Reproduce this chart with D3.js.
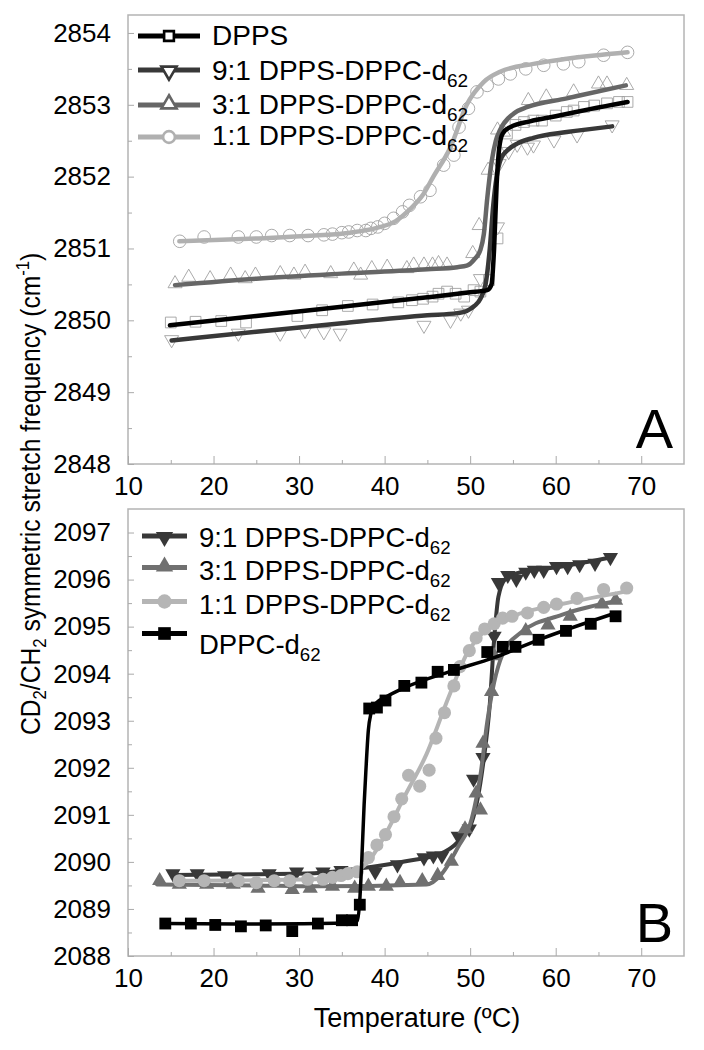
<!DOCTYPE html>
<html><head><meta charset="utf-8">
<script src="https://cdn.jsdelivr.net/npm/d3@7"></script>
<style>body{margin:0;background:#fff}svg{display:block}text{font-family:"Liberation Sans",Arial,sans-serif}</style>
</head><body>
<script>
// ---------- DATA ----------
const xTicks = [10,20,30,40,50,60,70];
const yTicksA = [2848,2849,2850,2851,2852,2853,2854];
const yTicksB = [2088,2089,2090,2091,2092,2093,2094,2095,2096,2097];

// Panel A (CH2 stretch) — measured points [T, freq]
const A_DPPS_pts = [[15.0,2849.97],[17.9,2849.98],[20.9,2849.99],[23.8,2849.97],[29.8,2850.06],[32.7,2850.14],[35.7,2850.20],[38.6,2850.22],[41.6,2850.25],[43.2,2850.28],[44.5,2850.30],[45.6,2850.33],[46.3,2850.37],[47.3,2850.40],[48.3,2850.37],[49.3,2850.33],[50.4,2850.42],[51.2,2850.40],[52.2,2850.56],[53.2,2851.14],[54.3,2852.60],[55.3,2852.72],[56.3,2852.76],[57.4,2852.78],[58.4,2852.78],[60.0,2852.85],[61.3,2852.90],[62.1,2852.92],[63.3,2852.97],[64.5,2852.99],[66.0,2853.02],[67.4,2853.04],[68.4,2853.04]];
const A_DPPS_fit = [[14.9,2849.93],[25,2850.06],[35,2850.19],[45,2850.32],[50,2850.39],[52.0,2850.42],[52.5,2850.5],[52.8,2851.0],[53.1,2851.9],[53.4,2852.4],[53.8,2852.6],[54.7,2852.69],[57,2852.77],[60,2852.84],[64,2852.94],[68.4,2853.04]];
const A_91_pts = [[15.1,2849.73],[22.9,2849.82],[27.8,2849.82],[30.7,2849.86],[32.9,2849.84],[34.8,2849.82],[44.6,2849.93],[47.7,2850.00],[48.9,2850.10],[49.8,2850.14],[51.2,2850.58],[53.2,2851.30],[53.4,2852.18],[54.5,2852.35],[55.5,2852.45],[56.7,2852.41],[57.4,2852.44],[59.8,2852.51],[62.5,2852.58],[66.6,2852.72]];
const A_91_fit = [[15.1,2849.72],[25,2849.84],[35,2849.96],[45,2850.07],[48.5,2850.10],[49.6,2850.13],[50.5,2850.2],[51.2,2850.3],[51.8,2850.5],[52.3,2851.0],[52.7,2851.6],[53.1,2852.0],[53.6,2852.25],[54.3,2852.36],[55.5,2852.46],[57.4,2852.54],[61.3,2852.62],[66.6,2852.70]];
const A_31_pts = [[15.5,2850.51],[17.1,2850.60],[19.6,2850.58],[22.0,2850.63],[23.7,2850.58],[24.9,2850.63],[27.8,2850.65],[29.4,2850.63],[30.7,2850.67],[33.7,2850.65],[36.4,2850.70],[37.2,2850.63],[38.5,2850.72],[40.3,2850.74],[42.6,2850.72],[43.4,2850.77],[44.6,2850.77],[45.6,2850.77],[46.3,2850.79],[47.3,2850.77],[50.3,2850.93],[51.05,2851.32],[52.1,2852.09],[53.2,2852.65],[53.9,2852.62],[56.8,2853.06],[58.9,2853.11],[62.1,2853.18],[65.0,2853.29],[66.0,2853.29],[68.3,2853.27]];
const A_31_fit = [[15.5,2850.49],[25,2850.58],[35,2850.65],[45,2850.71],[48.5,2850.74],[49.6,2850.76],[50.5,2850.85],[51.2,2850.98],[51.6,2851.2],[52.0,2851.7],[52.5,2852.2],[53.0,2852.5],[53.5,2852.65],[55.1,2852.88],[56.7,2852.97],[61.3,2853.09],[68.2,2853.27]];
const A_11_pts = [[16.05,2851.10],[18.9,2851.16],[22.9,2851.16],[25.0,2851.16],[26.8,2851.18],[28.9,2851.18],[31.05,2851.18],[32.9,2851.19],[33.9,2851.20],[35.0,2851.22],[35.8,2851.23],[36.8,2851.25],[37.8,2851.25],[38.4,2851.28],[39.2,2851.30],[40.0,2851.35],[41.05,2851.42],[42.1,2851.51],[42.9,2851.60],[44.2,2851.72],[45.3,2851.81],[46.9,2852.16],[48.1,2852.30],[48.7,2852.69],[49.8,2852.95],[50.8,2853.18],[52.0,2853.27],[53.3,2853.36],[54.7,2853.43],[56.5,2853.50],[58.6,2853.55],[60.9,2853.57],[62.7,2853.60],[65.6,2853.69],[68.4,2853.73]];
const A_11_fit = [[16.0,2851.10],[25,2851.14],[31.8,2851.18],[36,2851.22],[39.2,2851.29],[41.3,2851.38],[43,2851.55],[44.5,2851.75],[45.7,2852.0],[47.7,2852.41],[49.6,2853.0],[51.6,2853.32],[53.5,2853.46],[57.4,2853.57],[61.3,2853.64],[68.4,2853.73]];

// Panel B (CD2 stretch)
const B_91_pts = [[15.25,2089.75],[18.1,2089.75],[21.3,2089.71],[26.5,2089.75],[29.7,2089.79],[32.8,2089.79],[34.9,2089.82],[38.9,2089.79],[41.5,2089.94],[44.6,2090.09],[45.7,2090.13],[46.7,2090.13],[48.6,2090.55],[49.9,2090.70],[50.4,2091.76],[51.5,2092.22],[52.8,2094.80],[53.3,2095.94],[54.4,2096.09],[55.4,2096.01],[56.5,2096.16],[57.5,2096.20],[58.6,2096.20],[60.1,2096.28],[61.4,2096.28],[62.8,2096.32],[64.6,2096.35],[66.4,2096.47]];
const B_91_fit = [[15.2,2089.72],[25,2089.74],[31.8,2089.76],[37,2089.86],[42.3,2090.01],[46.5,2090.17],[48.6,2090.43],[50.2,2090.85],[51.5,2092.06],[52.3,2093.36],[52.8,2094.72],[53.3,2095.63],[54.1,2096.01],[55.4,2096.13],[60.7,2096.28],[66.4,2096.47]];
const B_31_pts = [[13.7,2089.60],[16.0,2089.52],[19.2,2089.52],[22.3,2089.52],[25.2,2089.44],[29.2,2089.41],[31.3,2089.44],[33.9,2089.48],[36.5,2089.44],[38.1,2089.48],[40.2,2089.48],[41.8,2089.56],[44.4,2089.60],[46.2,2089.71],[47.8,2090.01],[49.4,2090.70],[50.7,2091.46],[51.2,2091.10],[51.5,2092.52],[52.5,2093.62],[52.8,2094.38],[56.5,2094.91],[59.1,2095.03],[61.7,2095.22],[65.4,2095.48],[67.0,2095.56]];
const B_31_fit = [[13.4,2089.52],[25,2089.50],[31.8,2089.48],[44.9,2089.52],[46.7,2089.75],[48.6,2090.32],[50.2,2090.93],[51.2,2091.84],[52.0,2092.98],[52.8,2093.81],[53.8,2094.42],[55.9,2094.87],[60.7,2095.25],[67.5,2095.56]];
const B_11_pts = [[16.0,2089.60],[18.9,2089.60],[22.9,2089.60],[25.0,2089.56],[27.1,2089.60],[28.9,2089.60],[31.0,2089.63],[32.8,2089.63],[33.9,2089.67],[34.9,2089.71],[35.7,2089.75],[36.8,2089.79],[38.1,2090.09],[39.1,2090.36],[40.1,2090.58],[41.1,2090.96],[42.0,2091.34],[42.8,2091.84],[44.1,2091.61],[45.2,2091.95],[46.0,2092.63],[47.0,2093.17],[48.1,2093.74],[48.8,2094.15],[49.9,2094.49],[50.7,2094.76],[51.7,2094.95],[52.8,2095.06],[53.8,2095.18],[54.9,2095.22],[56.7,2095.29],[58.6,2095.41],[60.1,2095.48],[62.5,2095.60],[65.6,2095.79],[68.3,2095.82]];
const B_11_fit = [[16.0,2089.60],[31.8,2089.63],[36,2089.75],[38.1,2090.01],[40.2,2090.62],[42.3,2091.38],[44.9,2092.29],[47.5,2093.51],[49.6,2094.42],[51.7,2094.91],[55.4,2095.25],[60.7,2095.48],[68.3,2095.75]];
const B_DPPC_pts = [[14.36,2088.69],[17.35,2088.69],[20.2,2088.66],[23.2,2088.63],[26.1,2088.65],[29.2,2088.53],[32.2,2088.69],[35.0,2088.76],[36.2,2088.76],[37.1,2089.09],[38.2,2093.26],[39.1,2093.28],[40.1,2093.43],[42.3,2093.74],[44.3,2093.81],[46.2,2094.04],[48.1,2094.08],[52.0,2094.46],[53.8,2094.57],[55.3,2094.57],[58.0,2094.72],[61.2,2094.91],[64.1,2095.06],[67.0,2095.22]];
const B_DPPC_fit = [[14.4,2088.69],[25,2088.68],[36,2088.70],[36.8,2088.75],[37.1,2089.2],[37.3,2089.9],[37.6,2091.2],[37.8,2091.9],[38.1,2092.8],[38.4,2093.15],[38.9,2093.36],[40.2,2093.51],[42.3,2093.70],[47.5,2094.04],[52.8,2094.34],[58,2094.72],[67.0,2095.29]];

const seriesA = [
  {label:"DPPS", sub:"", color:"#000", shape:"square", pts:A_DPPS_pts, fit:A_DPPS_fit},
  {label:"9:1 DPPS-DPPC-d", sub:"62", color:"#383838", shape:"down", pts:A_91_pts, fit:A_91_fit},
  {label:"3:1 DPPS-DPPC-d", sub:"62", color:"#666", shape:"up", pts:A_31_pts, fit:A_31_fit},
  {label:"1:1 DPPS-DPPC-d", sub:"62", color:"#b0b0b0", shape:"circle", pts:A_11_pts, fit:A_11_fit}
];
const seriesB = [
  {label:"9:1 DPPS-DPPC-d", sub:"62", color:"#383838", shape:"down", pts:B_91_pts, fit:B_91_fit},
  {label:"3:1 DPPS-DPPC-d", sub:"62", color:"#707070", shape:"up", pts:B_31_pts, fit:B_31_fit},
  {label:"1:1 DPPS-DPPC-d", sub:"62", color:"#b5b5b5", shape:"circle", pts:B_11_pts, fit:B_11_fit},
  {label:"DPPC-d", sub:"62", color:"#000", shape:"square", pts:B_DPPC_pts, fit:B_DPPC_fit}
];

// ---------- DRAW ----------
const W=704,H=1050;
const svg=d3.select("body").append("svg").attr("width",W).attr("height",H);
svg.append("rect").attr("width",W).attr("height",H).attr("fill","#fff");

const L=128, R=684;
const x=d3.scaleLinear().domain([10,75]).range([L,R]);
const yA=d3.scaleLinear().domain([2848,2854.25]).range([464,15]);
const yB=d3.scaleLinear().domain([2088,2097.5]).range([956,509]);

function sym(shape,size){
  if(shape==="square") return d3.symbol(d3.symbolSquare,size)();
  if(shape==="circle") return d3.symbol(d3.symbolCircle,size)();
  return d3.symbol(d3.symbolTriangle,size)();
}
function rot(shape){return shape==="down"?" rotate(180)":"";}

function panel(y, yTicks, series, filled, letter, letterY){
  const g=svg.append("g");
  const y0=y.range()[0], y1=y.range()[1];
  g.append("rect").attr("x",L).attr("y",y1).attr("width",R-L).attr("height",y0-y1)
    .attr("fill","none").attr("stroke","#b4b4b4").attr("stroke-width",1.5);
  const xa=d3.axisBottom(x).tickValues(xTicks).tickSize(-8).tickFormat(d3.format("d")).tickPadding(12);
  const gx=g.append("g").attr("transform",`translate(0,${y0})`).call(xa);
  gx.select(".domain").remove();
  gx.selectAll("line").attr("stroke","#aaa").attr("stroke-width",1);
  gx.selectAll("text").attr("font-size",26).attr("fill","#000").attr("dy","0.72em");
  const xm=d3.axisBottom(x).tickValues(d3.range(15,75,10)).tickSize(-4).tickFormat("");
  const gxm=g.append("g").attr("transform",`translate(0,${y0})`).call(xm);
  gxm.select(".domain").remove(); gxm.selectAll("line").attr("stroke","#aaa");
  const ya=d3.axisLeft(y).tickValues(yTicks).tickSize(-6).tickFormat(d3.format("d")).tickPadding(17);
  const gy=g.append("g").attr("transform",`translate(${L},0)`).call(ya);
  gy.select(".domain").remove();
  gy.selectAll("line").attr("stroke","#aaa");
  gy.selectAll("text").attr("font-size",26).attr("fill","#000");
  const ym=d3.axisLeft(y).tickValues(yTicks.slice(0,-1).map(v=>v+0.5)).tickSize(-4).tickFormat("");
  const gym=g.append("g").attr("transform",`translate(${L},0)`).call(ym);
  gym.select(".domain").remove(); gym.selectAll("line").attr("stroke","#aaa");

  const line=d3.line().x(d=>x(d[0])).y(d=>y(d[1])).curve(d3.curveMonotoneX);
  const sizes=filled?{square:140,circle:135,up:100,down:100}:{square:115,circle:125,up:85,down:85};
  if(!filled){
    series.forEach(s=>{
      g.append("g").selectAll("path").data(s.pts).join("path")
        .attr("d",sym(s.shape,sizes[s.shape]))
        .attr("transform",d=>`translate(${x(d[0])},${y(d[1])})${rot(s.shape)}`)
        .attr("fill","none").attr("stroke","#a0a0a0").attr("stroke-width",0.9);
    });
    series.slice().reverse().forEach(s=>{
      g.append("path").datum(s.fit).attr("d",line).attr("fill","none")
        .attr("stroke",s.color).attr("stroke-width",4.5).attr("stroke-linecap","round");
    });
  } else {
    series.forEach(s=>{
      g.append("path").datum(s.fit).attr("d",line).attr("fill","none")
        .attr("stroke",s.color).attr("stroke-width",s.shape==="square"?3.5:4).attr("stroke-linecap","round");
      g.append("g").selectAll("path").data(s.pts).join("path")
        .attr("d",sym(s.shape,sizes[s.shape]))
        .attr("transform",d=>`translate(${x(d[0])},${y(d[1])})${rot(s.shape)}`)
        .attr("fill",s.color).attr("stroke","none");
    });
  }
  g.append("text").attr("x",673).attr("y",letterY).attr("text-anchor","end")
    .attr("font-size",56).text(letter);
  return g;
}

panel(yA, yTicksA, seriesA, false, "A", 448);
panel(yB, yTicksB, seriesB, true, "B", 942);

function legend(series, rows, textRows, x0, x1, tx, filled, fs){
  series.forEach((s,i)=>{
    const cy=rows[i];
    svg.append("line").attr("x1",x0).attr("x2",x1).attr("y1",cy).attr("y2",cy)
      .attr("stroke",s.color).attr("stroke-width",5);
    const cx=(x0+x1)/2;
    const size=filled?{square:160,circle:160,up:130,down:130}:{square:95,circle:110,up:100,down:100};
    svg.append("path").attr("d",sym(s.shape,size[s.shape]))
      .attr("transform",`translate(${cx},${cy + (s.shape==="down"?1:(s.shape==="up"?-1:0))})${rot(s.shape)}`)
      .attr("fill",filled?s.color:"#fff").attr("stroke",filled?"none":s.color).attr("stroke-width",2.6);
    const t=svg.append("text").attr("x",tx).attr("y",textRows[i]).attr("font-size",fs);
    t.append("tspan").text(s.label);
    if(s.sub) t.append("tspan").attr("font-size",fs*0.68).attr("dy",7).text(s.sub);
  });
}
legend(seriesA,[36,70,105,137],[45,80,113.5,145],138,200,212,false,28);
legend(seriesB,[536,567.5,601.5,633.5],[546.5,580,613.5,653.5],142,187,199,true,27.5);

// axis titles (reference font is narrow: compress along the text direction)
const yt=svg.append("text").attr("transform","translate(40,735) rotate(-90) scale(0.88,1)").attr("font-size",28).attr("text-anchor","start");
yt.append("tspan").text("CD");
yt.append("tspan").attr("font-size",19).attr("dy",6).text("2");
yt.append("tspan").attr("dy",-6).text("/CH");
yt.append("tspan").attr("font-size",19).attr("dy",6).text("2");
yt.append("tspan").attr("dy",-6).text(" symmetric stretch frequency (cm");
yt.append("tspan").attr("font-size",19).attr("dy",-11).text("-1");
yt.append("tspan").attr("dy",11).text(")");

svg.append("text").attr("x",417).attr("y",1027).attr("text-anchor","middle").attr("font-size",27)
  .text("Temperature (ºC)");
</script>
</body></html>
